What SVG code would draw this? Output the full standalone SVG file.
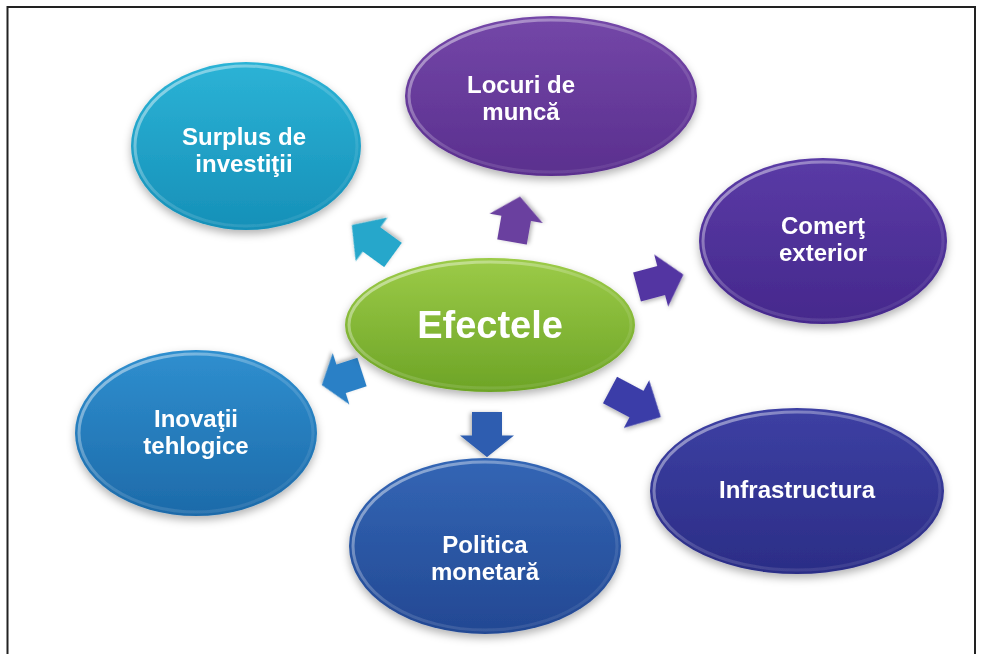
<svg xmlns="http://www.w3.org/2000/svg" width="982" height="654" viewBox="0 0 982 654">
  <defs>
    <style>
      .lbl { font-family: "Liberation Sans", Arial, sans-serif; font-weight: bold; font-size: 24px; fill: #ffffff; text-anchor: middle; }
      .big { font-size: 38px; }
      .rim { fill: none; stroke: url(#gRim); stroke-width: 3; }
      .node { filter: url(#shadow); }
      .arr { filter: url(#ashadow); }
    </style>
    <filter id="shadow" x="-20%" y="-20%" width="140%" height="150%">
      <feDropShadow dx="0" dy="4" stdDeviation="4" flood-color="#000" flood-opacity="0.3"/>
    </filter>
    <filter id="ashadow" x="-30%" y="-30%" width="160%" height="160%">
      <feDropShadow dx="1" dy="2" stdDeviation="2" flood-color="#000" flood-opacity="0.3"/>
    </filter>
    <linearGradient id="gRim" x1="0" y1="0" x2="1" y2="1">
      <stop offset="0" stop-color="#ffffff" stop-opacity="0.55"/>
      <stop offset="0.5" stop-color="#ffffff" stop-opacity="0.15"/>
      <stop offset="1" stop-color="#ffffff" stop-opacity="0.05"/>
    </linearGradient>
    <linearGradient id="gCyan" x1="0" y1="0" x2="0" y2="1">
      <stop offset="0" stop-color="#2cb3d6"/><stop offset="1" stop-color="#1690b8"/>
    </linearGradient>
    <linearGradient id="gPurple" x1="0" y1="0" x2="0" y2="1">
      <stop offset="0" stop-color="#7447a8"/><stop offset="1" stop-color="#5a2f8e"/>
    </linearGradient>
    <linearGradient id="gIndigoP" x1="0" y1="0" x2="0" y2="1">
      <stop offset="0" stop-color="#5a3ba6"/><stop offset="1" stop-color="#45288c"/>
    </linearGradient>
    <linearGradient id="gGreen" x1="0" y1="0" x2="0" y2="1">
      <stop offset="0" stop-color="#9ccb48"/><stop offset="1" stop-color="#6da426"/>
    </linearGradient>
    <linearGradient id="gBlue" x1="0" y1="0" x2="0" y2="1">
      <stop offset="0" stop-color="#2f8fcf"/><stop offset="1" stop-color="#1d6aa9"/>
    </linearGradient>
    <linearGradient id="gRoyal" x1="0" y1="0" x2="0" y2="1">
      <stop offset="0" stop-color="#3366b5"/><stop offset="1" stop-color="#234893"/>
    </linearGradient>
    <linearGradient id="gNavy" x1="0" y1="0" x2="0" y2="1">
      <stop offset="0" stop-color="#3d40a3"/><stop offset="1" stop-color="#2b2d86"/>
    </linearGradient>
    <path id="arrow" d="M0,-15 L25,-15 L25,-27 L48,0 L25,27 L25,15 L0,15 Z"/>
  </defs>

  <rect x="0" y="0" width="982" height="654" fill="#ffffff"/>
  <rect x="7.5" y="7" width="967.5" height="670" fill="none" stroke="#222222" stroke-width="2"/>

  <g id="connectors">
    <use href="#arrow" class="arr" fill="#25a7cb" transform="translate(393,255) rotate(-144) scale(1.06,1)"/>
    <use href="#arrow" class="arr" fill="#6a3f9f" transform="translate(512,242) rotate(-80) scale(0.96,1)"/>
    <use href="#arrow" class="arr" fill="#5335a2" transform="translate(637,287) rotate(-15)"/>
    <use href="#arrow" class="arr" fill="#2a80c6" transform="translate(362,372) rotate(162) scale(0.88,1)"/>
    <use href="#arrow" class="arr" fill="#2d5db0" transform="translate(487,412) rotate(90) scale(0.94,1)"/>
    <use href="#arrow" class="arr" fill="#3a3ca8" transform="translate(610,390) rotate(28) scale(1.2,1)"/>
  </g>

  <g id="node-surplus" class="node">
    <ellipse cx="246" cy="146" rx="115" ry="84" fill="url(#gCyan)"/>
    <ellipse cx="246" cy="146" rx="111" ry="80" class="rim"/>
    <text class="lbl" x="244" y="145">Surplus de</text>
    <text class="lbl" x="244" y="172">investiţii</text>
  </g>

  <g id="node-locuri" class="node">
    <ellipse cx="551" cy="96" rx="146" ry="80" fill="url(#gPurple)"/>
    <ellipse cx="551" cy="96" rx="142" ry="76" class="rim"/>
    <text class="lbl" x="521" y="93">Locuri de</text>
    <text class="lbl" x="521" y="120">muncă</text>
  </g>

  <g id="node-comert" class="node">
    <ellipse cx="823" cy="241" rx="124" ry="83" fill="url(#gIndigoP)"/>
    <ellipse cx="823" cy="241" rx="120" ry="79" class="rim"/>
    <text class="lbl" x="823" y="234">Comerţ</text>
    <text class="lbl" x="823" y="261">exterior</text>
  </g>

  <g id="node-efectele" class="node">
    <ellipse cx="490" cy="325" rx="145" ry="67" fill="url(#gGreen)"/>
    <ellipse cx="490" cy="325" rx="141" ry="63" class="rim"/>
    <text class="lbl big" x="490" y="338">Efectele</text>
  </g>

  <g id="node-inovatii" class="node">
    <ellipse cx="196" cy="433" rx="121" ry="83" fill="url(#gBlue)"/>
    <ellipse cx="196" cy="433" rx="117" ry="79" class="rim"/>
    <text class="lbl" x="196" y="427">Inovaţii</text>
    <text class="lbl" x="196" y="454">tehlogice</text>
  </g>

  <g id="node-politica" class="node">
    <ellipse cx="485" cy="546" rx="136" ry="88" fill="url(#gRoyal)"/>
    <ellipse cx="485" cy="546" rx="132" ry="84" class="rim"/>
    <text class="lbl" x="485" y="553">Politica</text>
    <text class="lbl" x="485" y="580">monetară</text>
  </g>

  <g id="node-infrastructura" class="node">
    <ellipse cx="797" cy="491" rx="147" ry="83" fill="url(#gNavy)"/>
    <ellipse cx="797" cy="491" rx="143" ry="79" class="rim"/>
    <text class="lbl" x="797" y="498">Infrastructura</text>
  </g>
</svg>
